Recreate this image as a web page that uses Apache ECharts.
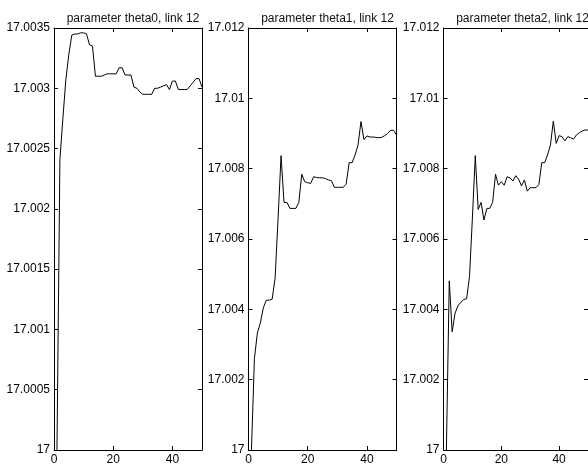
<!DOCTYPE html>
<html>
<head>
<meta charset="utf-8">
<script src="https://cdn.jsdelivr.net/npm/echarts@6/dist/echarts.min.js"></script>
<style>html,body{margin:0;padding:0;background:#fff;}#c{width:588px;height:470px;}</style>
</head>
<body>
<div id="c"></div>
<script>
const titles = ["parameter theta0, link 12", "parameter theta1, link 12", "parameter theta2, link 12"];
const iterations = [1,2,3,4,5,6,7,8,9,10,11,12,13,14,15,16,17,18,19,20,21,22,23,24,25,26,27,28,29,30,31,32,33,34,35,36,37,38,39,40,41,42,43,44,45,46,47,48,49,50];
const theta0 = [17.0, 17.00241, 17.00275, 17.00307, 17.00328, 17.00344, 17.00345, 17.00345, 17.00346, 17.00346,
  17.00345, 17.00336, 17.00335, 17.0031, 17.0031, 17.0031, 17.00311, 17.00312, 17.00312, 17.00312,
  17.00312, 17.00317, 17.00317, 17.00311, 17.00311, 17.00311, 17.00301, 17.003, 17.00297, 17.00295,
  17.00295, 17.00295, 17.00295, 17.003, 17.003, 17.00301, 17.00302, 17.00303, 17.00299, 17.00306,
  17.00306, 17.00299, 17.00299, 17.00299, 17.00299, 17.00302, 17.00305, 17.00308, 17.00308, 17.00301];
const theta1 = [17.0, 17.0026, 17.00333, 17.00361, 17.00404, 17.00426, 17.00426, 17.00429, 17.0049, 17.0066,
  17.00837, 17.00704, 17.00704, 17.00687, 17.00687, 17.00687, 17.00704, 17.00784, 17.00763, 17.0076,
  17.00758, 17.00777, 17.00775, 17.00774, 17.00774, 17.00772, 17.00768, 17.00766, 17.00747, 17.00747,
  17.00747, 17.00747, 17.00756, 17.00817, 17.00817, 17.00839, 17.00867, 17.00934, 17.00883, 17.00893,
  17.0089, 17.0089, 17.00889, 17.00888, 17.00889, 17.00894, 17.009, 17.00909, 17.00909, 17.00896];
const theta2 = [17.0, 17.00481, 17.00336, 17.00389, 17.0041, 17.0042, 17.00428, 17.0043, 17.00493, 17.0066,
  17.00837, 17.00684, 17.00704, 17.00654, 17.00687, 17.00687, 17.00704, 17.00784, 17.00753, 17.00763,
  17.00753, 17.00777, 17.00774, 17.00765, 17.0078, 17.0077, 17.00751, 17.00768, 17.00736, 17.00746,
  17.00746, 17.00746, 17.00755, 17.00817, 17.00817, 17.00839, 17.00867, 17.00935, 17.00872, 17.00894,
  17.00891, 17.00879, 17.00891, 17.00888, 17.00884, 17.00896, 17.00902, 17.00907, 17.0091, 17.0091];
const xTicks = {min: 0, max: 50, interval: 20};
const yRanges = [
  {min: 17, max: 17.0035, interval: 0.0005, digits: 4},
  {min: 17, max: 17.012, interval: 0.002, digits: 3},
  {min: 17, max: 17.012, interval: 0.002, digits: 3}
];
const seriesData = [theta0, theta1, theta2];

const panelLefts = [54, 248.5, 443.5];
const panelWidth = 148;
const panelTop = 28;
const panelHeight = 422;
const font = '"Liberation Sans", Arial, Helvetica, sans-serif';

const grids = [], xAxes = [], yAxes = [], series = [], titleArr = [];
for (let i = 0; i < 3; i++) {
  grids.push({left: panelLefts[i], top: panelTop, width: panelWidth, height: panelHeight, containLabel: false});
  titleArr.push({
    text: titles[i], left: panelLefts[i] + panelWidth / 2, top: 8, textAlign: 'center',
    textStyle: {fontFamily: font, fontSize: 12, fontWeight: 'normal', color: '#111'}
  });
  const axisLine = {show: true, onZero: false, lineStyle: {color: '#000', width: 1}};
  const tick = {show: true, inside: true, length: 4, lineStyle: {color: '#000', width: 1}};
  xAxes.push({
    gridIndex: i, type: 'value', position: 'bottom', min: xTicks.min, max: xTicks.max, interval: xTicks.interval,
    axisLine: axisLine, axisTick: tick, splitLine: {show: false},
    axisLabel: {show: true, showMaxLabel: false, margin: 4, color: '#000', fontFamily: font, fontSize: 12}
  });
  xAxes.push({
    gridIndex: i, type: 'value', position: 'top', min: xTicks.min, max: xTicks.max, interval: xTicks.interval,
    axisLine: axisLine, axisTick: tick, splitLine: {show: false}, axisLabel: {show: false}
  });
  const yr = yRanges[i];
  const fmt = v => String(parseFloat(v.toFixed(yr.digits)));
  yAxes.push({
    gridIndex: i, type: 'value', position: 'left', min: yr.min, max: yr.max, interval: yr.interval, scale: true,
    axisLine: axisLine, axisTick: tick, splitLine: {show: false},
    axisLabel: {show: true, margin: 4, color: '#000', fontFamily: font, fontSize: 12, formatter: fmt}
  });
  yAxes.push({
    gridIndex: i, type: 'value', position: 'right', min: yr.min, max: yr.max, interval: yr.interval, scale: true,
    axisLine: axisLine, axisTick: tick, splitLine: {show: false}, axisLabel: {show: false}
  });
  series.push({
    type: 'line', xAxisIndex: i * 2, yAxisIndex: i * 2, showSymbol: false, symbol: 'none',
    data: iterations.map((x, k) => [x, seriesData[i][k]]),
    lineStyle: {color: '#000', width: 1}, animation: false, clip: true
  });
}

const chart = echarts.init(document.getElementById('c'), null, {renderer: 'canvas'});
chart.setOption({
  animation: false,
  backgroundColor: '#fff',
  title: titleArr,
  grid: grids,
  xAxis: xAxes,
  yAxis: yAxes,
  series: series
});
</script>
</body>
</html>
